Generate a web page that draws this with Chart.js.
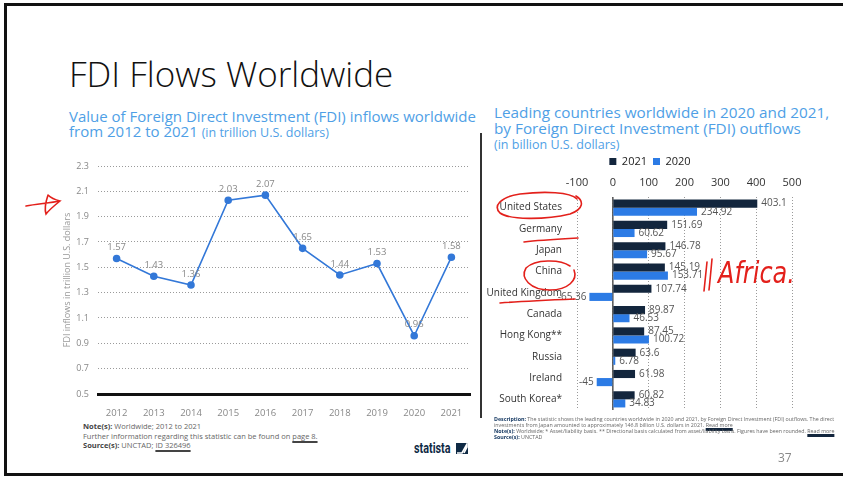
<!DOCTYPE html>
<html lang="en">
<head>
<meta charset="UTF-8">
<title>FDI Flows Worldwide</title>
<script src="https://cdn.jsdelivr.net/npm/chart.js"></script>
<style>
  html, body { margin: 0; padding: 0; background: #fff; }
  body { width: 843px; height: 478px; position: relative; overflow: hidden; font-family: "Open Sans", sans-serif; }
  .slide { position: absolute; left: 4px; top: 3px; width: 900px; height: 473px; border: 3px solid #111; box-sizing: border-box; }
  .t { position: absolute; white-space: nowrap; line-height: 1; }
  .blue { color: #4f9fe6; }
  .note { position: absolute; font-size: 7.5px; line-height: 9.5px; color: #666; white-space: nowrap; }
  .note b { color: #444; }
  .desc { position: absolute; font-size: 5.3px; line-height: 6px; color: #666; width: 345px; }
  .desc b { color: #173a63; }
  .ul { text-decoration: underline; text-decoration-thickness: 2px; text-decoration-color: #444; text-underline-offset: 2px; }
  .ulr { text-decoration: underline; text-decoration-thickness: 2.5px; text-decoration-color: #13263d; text-underline-offset: 1px; }
  canvas { position: absolute; }
</style>
</head>
<body>
<div class="slide"></div>

<div class="t" style="left:69px; top:56px; font-size:35px; font-weight:300; color:#111;">FDI Flows Worldwide</div>

<div class="t blue" style="left:69px; top:109px; font-size:15px;">Value of Foreign Direct Investment (FDI) inflows worldwide</div>
<div class="t blue" style="left:69px; top:124px; font-size:15px;">from 2012 to 2021 <span style="font-size:12.5px;">(in trillion U.S. dollars)</span></div>

<div class="t blue" style="left:494px; top:105px; font-size:15.3px;">Leading countries worldwide in 2020 and 2021,</div>
<div class="t blue" style="left:494px; top:121px; font-size:15.3px;">by Foreign Direct Investment (FDI) outflows</div>
<div class="t blue" style="left:494px; top:139px; font-size:12.5px;">(in billion U.S. dollars)</div>

<div style="position:absolute; left:480px; top:133px; width:2px; height:285px; background:#333;"></div>

<canvas id="inflows" width="415" height="270" style="left:62px; top:150px;"></canvas>
<canvas id="outflows" width="326" height="273" style="left:486px; top:150px;"></canvas>

<div class="note" style="left:83px; top:422px;">
  <b>Note(s):</b> Worldwide; 2012 to 2021<br>
  Further information regarding this statistic can be found on <span class="ul">page 8.</span><br>
  <b>Source(s):</b> UNCTAD; <span class="ul">ID 326496</span>
</div>

<div class="t" style="left:414px; top:441px; font-size:15px; font-family:Roboto, sans-serif; font-weight:700; color:#0f2a45; transform:scaleX(0.72); transform-origin:left top;">statista</div>
<svg style="position:absolute; left:456px; top:443px;" width="12" height="11" viewBox="0 0 12 11">
  <rect width="12" height="11" fill="#0f2a45"/>
  <path d="M1 10 L6 10 L11 1 L11 4 L8 10" fill="none" stroke="#fff" stroke-width="1.6"/>
</svg>

<div class="desc" style="left:494px; top:416px;">
  <b>Description:</b> The statistic shows the leading countries worldwide in 2020 and 2021, by Foreign Direct Investment (FDI) outflows. The direct investments from Japan amounted to approximately 146.8 billion U.S. dollars in 2021. <span class="ulr">Read more</span>
</div>
<div class="desc" style="left:494px; top:429px; width:350px; line-height:5.6px;">
  <b>Note(s):</b> Worldwide; * Asset/liability basis. ** Directional basis calculated from asset/liability basis. Figures have been rounded. <span class="ulr">Read more</span><br>
  <b>Source(s):</b> UNCTAD
</div>

<div class="t" style="left:778px; top:452px; font-size:12px; color:#888;">37</div>

<!-- hand annotations on the slide -->
<svg style="position:absolute; left:0; top:0;" width="843" height="478">
  <g fill="none" stroke="#e3201b" stroke-width="1.6" stroke-linecap="round">
    <path d="M26 206 C36 204 50 203 60 201 M48 195 C52 199 56 200 60 201 C55 205 50 209 46 214 C44 208 46 201 48 195"/>
    <path d="M577 199 C570 192 545 191 520 194 C500 197 493 206 500 213 C510 220 545 220 570 214 C584 209 584 201 576 196"/>
    <path d="M524 242 C540 240 560 239 578 238"/>
    <path d="M570 266 C560 259 535 259 526 268 C520 278 530 290 550 290 C568 290 578 280 574 270"/>
    <path d="M500 303 C525 301 550 300 575 299"/>
    <path d="M707 262 C706 272 705 282 704 291 M712 259 C711 270 710 281 709 290"/>
  </g>
</svg>
<div class="t" style="left:718px; top:258px; font-size:30px; font-style:italic; color:#e3201b; font-family:'DejaVu Sans', sans-serif; transform:scaleX(0.8); transform-origin:left top;">Africa.</div>

<script>
  // left chart: FDI inflows worldwide
  const years = ['2012', '2013', '2014', '2015', '2016', '2017', '2018', '2019', '2020', '2021'];
  const inflows = [1.57, 1.43, 1.36, 2.03, 2.07, 1.65, 1.44, 1.53, 0.96, 1.58];
  const inflowTicks = [0.5, 0.7, 0.9, 1.1, 1.3, 1.5, 1.7, 1.9, 2.1, 2.3];

  // right chart: FDI outflows by country
  const countries = ['United States', 'Germany', 'Japan', 'China', 'United Kingdom', 'Canada', 'Hong Kong**', 'Russia', 'Ireland', 'South Korea*'];
  const outflows2021 = [403.1, 151.69, 146.78, 145.19, 107.74, 89.87, 87.45, 63.6, 61.98, 60.82];
  const outflows2020 = [234.92, 60.62, 95.67, 153.71, -65.36, 46.53, 100.72, 6.78, -45, 34.83];
  const outflowTicks = [-100, 0, 100, 200, 300, 400, 500];

  // writes the value next to each point / bar
  const valueLabels = {
    id: 'valueLabels',
    afterDatasetsDraw(chart) {
      const ctx = chart.ctx;
      const horizontal = chart.options.indexAxis === 'y';
      ctx.save();
      ctx.font = (horizontal ? '10px' : '9.5px') + ' "Open Sans"';
      ctx.fillStyle = horizontal ? '#555' : '#888';
      ctx.textBaseline = 'middle';
      chart.data.datasets.forEach((ds, i) => {
        chart.getDatasetMeta(i).data.forEach((el, j) => {
          const v = ds.data[j];
          const txt = String(v);
          if (horizontal) {
            if (v >= 0) { ctx.textAlign = 'left'; ctx.fillText(txt, el.x + 4, el.y); }
            else { ctx.textAlign = 'right'; ctx.fillText(txt, el.x - 3, el.y); }
          } else {
            ctx.textAlign = 'center';
            ctx.fillText(txt, el.x, el.y - 11);
          }
        });
      });
      ctx.restore();
    }
  };

  const zeroLine = {
    id: 'zeroLine',
    beforeDatasetsDraw(chart) {
      const ctx = chart.ctx;
      const x = chart.scales.x.getPixelForValue(0);
      ctx.save();
      ctx.strokeStyle = '#555';
      ctx.lineWidth = 1.5;
      ctx.beginPath();
      ctx.moveTo(x, chart.chartArea.top);
      ctx.lineTo(x, chart.chartArea.bottom);
      ctx.stroke();
      ctx.restore();
    }
  };

  // the legend sits a little right of the canvas centre
  const nudgeLegend = {
    id: 'nudgeLegend',
    afterLayout(chart) {
      chart.legend.left += 11;
      chart.legend.right += 11;
    }
  };

  Chart.defaults.font.family = '"Open Sans", sans-serif';

  new Chart(document.getElementById('inflows'), {
    type: 'line',
    data: {
      labels: years,
      datasets: [{
        data: inflows,
        borderColor: '#3378d8',
        backgroundColor: '#3378d8',
        borderWidth: 1.6,
        pointRadius: 3,
        pointHoverRadius: 3,
        tension: 0
      }]
    },
    options: {
      responsive: false,
      animation: false,
      layout: { padding: { top: 16, right: 7, left: 0, bottom: 0 } },
      plugins: { legend: { display: false }, tooltip: { enabled: false } },
      scales: {
        x: {
          offset: true,
          grid: { display: false },
          border: { display: true, color: '#111', width: 3 },
          ticks: { color: '#888', font: { size: 9.5 }, padding: 6 },
          afterFit(scale) { scale.height = 26; }
        },
        y: {
          min: 0.5,
          max: 2.3,
          afterBuildTicks(scale) { scale.ticks = inflowTicks.map(v => ({ value: v })); },
          ticks: { color: '#888', font: { size: 9 }, padding: 9, callback: v => v.toFixed(1) },
          grid: { color: '#9a9a9a', drawTicks: false },
          border: { display: false, dash: [1, 2] },
          title: { display: true, text: 'FDI inflows in trillion U.S. dollars', color: '#999', font: { size: 9 }, padding: 0 },
          afterFit(scale) { scale.width = 36; }
        }
      }
    },
    plugins: [valueLabels]
  });

  new Chart(document.getElementById('outflows'), {
    type: 'bar',
    data: {
      labels: countries,
      datasets: [
        { label: '2021', data: outflows2021, backgroundColor: '#13263d' },
        { label: '2020', data: outflows2020, backgroundColor: '#2c7be5' }
      ]
    },
    options: {
      indexAxis: 'y',
      responsive: false,
      animation: false,
      categoryPercentage: 0.76,
      barPercentage: 1,
      layout: { padding: { top: 0, right: 20, left: 0, bottom: 0 } },
      plugins: {
        tooltip: { enabled: false },
        legend: {
          labels: { boxWidth: 7, boxHeight: 7, padding: 6, color: '#222', font: { size: 11 } }
        }
      },
      scales: {
        x: {
          position: 'top',
          min: -100,
          max: 500,
          afterBuildTicks(scale) { scale.ticks = outflowTicks.map(v => ({ value: v })); },
          ticks: { color: '#333', font: { size: 11 }, padding: 8 },
          grid: { color: '#9a9a9a', drawTicks: false },
          border: { display: false, dash: [1, 2] },
          afterFit(scale) { scale.height = 20; }
        },
        y: {
          grid: { display: false },
          border: { display: false },
          ticks: { color: '#333', font: { size: 10 }, padding: 7, autoSkip: false },
          afterFit(scale) { scale.width = 91; }
        }
      }
    },
    plugins: [zeroLine, valueLabels, nudgeLegend]
  });
</script>
</body>
</html>
